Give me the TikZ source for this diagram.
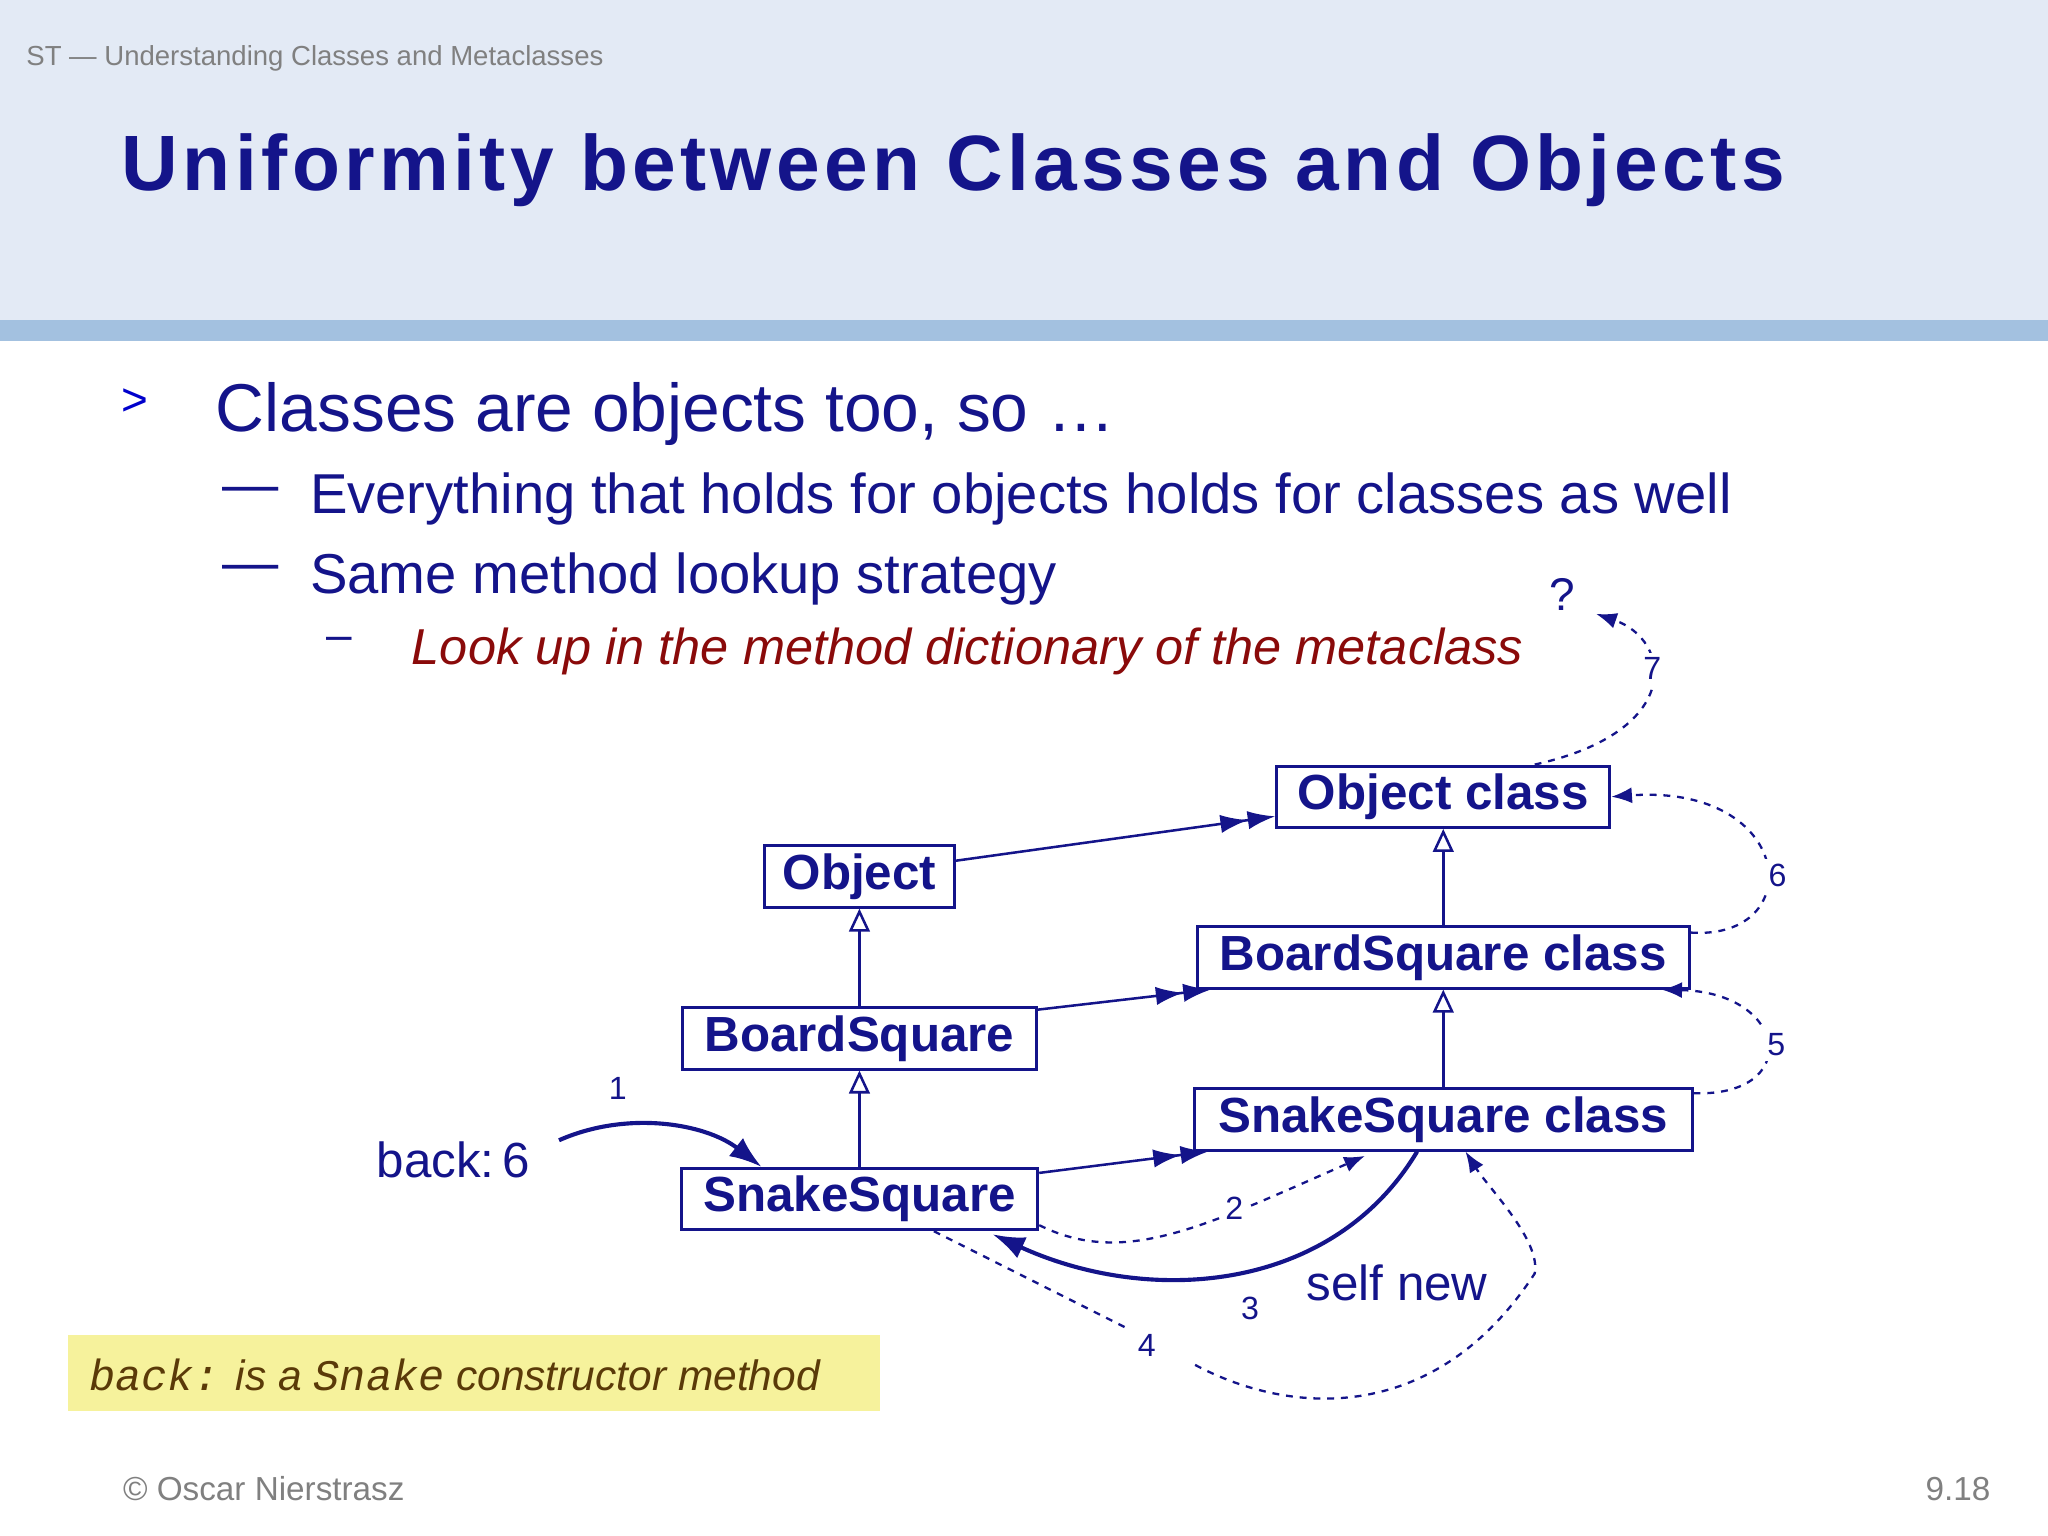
\documentclass[tikz,border=0pt]{standalone}
\usepackage{fontspec}
\setmainfont{Liberation Sans}
\setmonofont{Liberation Mono}
\usetikzlibrary{arrows.meta}
\definecolor{navy}{HTML}{14148A}
\definecolor{hdr}{HTML}{E3EAF5}
\definecolor{bar}{HTML}{A3C1E0}
\definecolor{dred}{HTML}{8A0A0A}
\definecolor{ylw}{HTML}{F6F29C}
\definecolor{brn}{HTML}{5A3A08}
\tikzset{
  cls/.style={draw=navy,line width=1.3pt,fill=white,text=navy,font=\fontsize{21.5}{24}\selectfont\bfseries,inner sep=0pt,minimum height=47*0.02cm},
  inh/.style={draw=navy,line width=1.1pt,-{Triangle[open,length=10pt,width=9pt]}},
  inst/.style={draw=navy,line width=1.1pt,-{Latex[length=12pt,width=8pt]Latex[length=12pt,width=8pt]}},
  dsh/.style={draw=navy,line width=1pt,dashed},
  dsha/.style={dsh,-{Latex[length=9pt,width=7pt]}},
  num/.style={text=navy,font=\fontsize{14}{16}\selectfont}
}
\begin{document}
\begin{tikzpicture}[x=0.02cm,y=-0.02cm]
\useasboundingbox (0,0) rectangle (1568,1176);
\fill[hdr] (0,0) rectangle (1568,245);
\fill[bar] (0,245) rectangle (1568,261);
\node[anchor=west,text=gray,font=\fontsize{12}{13}\selectfont] (hd) at (14,45) {ST — Understanding Classes and Metaclasses};
\node[anchor=west,text=navy,inner sep=0pt,font=\fontsize{34.2}{40}\selectfont\bfseries\addfontfeature{LetterSpace=5.6}] (title) at (93,130) {Uniformity between Classes and Objects};
\node[anchor=west,text=blue!80!black,inner sep=0pt,font=\fontsize{20}{24}\selectfont] (b1) at (93,308) {>};
\node[anchor=west,text=navy,inner sep=0pt,font=\fontsize{29.5}{32}\selectfont] (t1) at (165,317) {Classes are objects too, so …};
\node[anchor=west,text=navy,inner sep=0pt,font=\fontsize{24.5}{26}\selectfont] (d1) at (170,379) {—};
\node[anchor=west,text=navy,inner sep=0pt,font=\fontsize{24.5}{26}\selectfont] (t2) at (237,382) {Everything that holds for objects holds for classes as well};
\node[anchor=west,text=navy,inner sep=0pt,font=\fontsize{24.5}{26}\selectfont] (d2) at (170,439) {—};
\node[anchor=west,text=navy,inner sep=0pt,font=\fontsize{24.5}{26}\selectfont] (t3) at (237,443) {Same method lookup strategy};
\node[anchor=west,text=navy,inner sep=0pt,font=\fontsize{20}{24}\selectfont] (d3) at (250,493) {–};
\node[anchor=west,text=dred,inner sep=0pt,font=\fontsize{22}{24}\selectfont\itshape] (t4) at (315,499) {Look up in the method dictionary of the metaclass};

\node[cls,minimum width=255*0.02cm] (oc) at (1105,610) {Object class};
\node[cls,minimum width=145*0.02cm] (o) at (658,671) {Object};
\node[cls,minimum width=377*0.02cm] (bc) at (1105,733) {BoardSquare class};
\node[cls,minimum width=271*0.02cm] (b) at (658,795) {BoardSquare};
\node[cls,minimum width=381*0.02cm] (sc) at (1105,857) {SnakeSquare class};
\node[cls,minimum width=273*0.02cm] (s) at (658,918) {SnakeSquare};

\draw[inh] (b.north) -- (o.south);
\draw[inh] (s.north) -- (b.south);
\draw[inh] (bc.north) -- (oc.south);
\draw[inh] (sc.north) -- (bc.south);
\draw[inst] (o.east |- 0,659) -- (oc.west |- 0,625);
\draw[inst] (b.east |- 0,773) -- (927,0 |- bc.south);
\draw[inst] (s.east |- 0,898) -- (925,0 |- sc.south);

\node[anchor=west,text=navy,inner sep=0pt,font=\fontsize{21.5}{24}\selectfont] (back) at (288,888) {back:\,6};
\coordinate (bk) at (428,873);
\draw[navy,line width=1.8pt,-{Latex[length=14pt,width=10pt]}] (bk) .. controls (480,850) and (540,860) .. (583,0 |- s.north);
\node[num] (n1) at (473,833) {1};

\draw[dsha] (s.east |- 0,938) .. controls (860,970) and (920,940) .. (1045,885);
\node[num,fill=white,inner sep=2pt] (n2) at (945,925) {2};
\draw[navy,line width=1.8pt,-{Latex[length=14pt,width=10pt]}] (1085,0 |- sc.south) .. controls (1020,990) and (880,1000) .. (760,945);
\node[num] (n3) at (957,1002) {3};
\node[anchor=west,text=navy,inner sep=0pt,font=\fontsize{21.5}{24}\selectfont] (sn) at (1000,982) {self new};
\draw[dsh] (715,0 |- s.south) -- (865,1018);
\draw[dsha] (915,1045) .. controls (990,1085) and (1100,1090) .. (1175,975) .. controls (1180,950) and (1140,910) .. (1122,0 |- sc.south);
\node[num] (n4) at (878,1030) {4};

\draw[dsha] (sc.east |- 0,837) .. controls (1380,840) and (1370,760) .. (1272,0 |- bc.south);
\node[num,fill=white,inner sep=2pt] (n5) at (1360,800) {5};
\draw[dsha] (bc.east |- 0,714) .. controls (1385,720) and (1375,600) .. (oc.east);
\node[num,fill=white,inner sep=2pt] (n6) at (1361,670) {6};
\draw[dsha] (1175,0 |- oc.north) .. controls (1290,560) and (1280,490) .. (1222,470);
\node[num,fill=white,inner sep=2pt] (n7) at (1265,512) {7};
\node[text=navy,font=\fontsize{20}{22}\selectfont] (q) at (1196,455) {?};

\fill[ylw] (52,1022) rectangle (674,1080);
\node[anchor=west,text=brn,inner sep=0pt,font=\fontsize{18.5}{22}\selectfont\itshape] (yn) at (68,1053) {\texttt{\fontsize{19}{22}\selectfont back:} is a \texttt{\fontsize{19}{22}\selectfont Snake} constructor method};

\node[anchor=west,text=gray,font=\fontsize{14.5}{16}\selectfont] (cp) at (88,1140) {© Oscar Nierstrasz};
\node[anchor=east,text=gray,font=\fontsize{14.5}{16}\selectfont] (pg) at (1530,1140) {9.18};
\end{tikzpicture}
\end{document}
